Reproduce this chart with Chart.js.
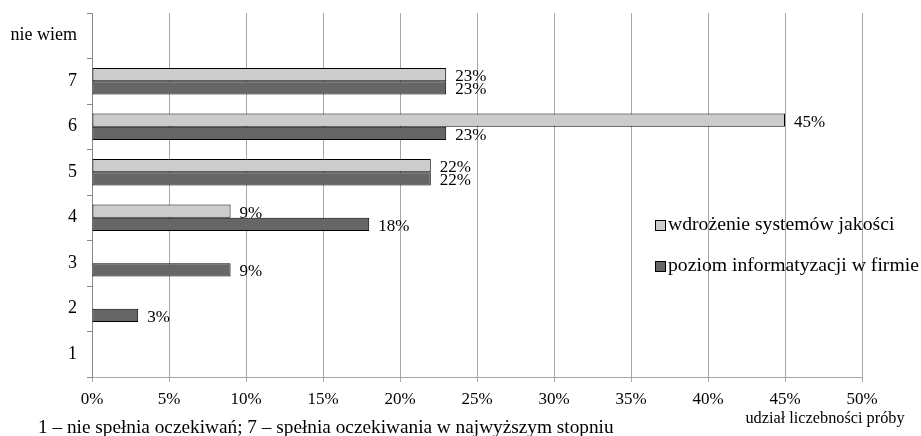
<!DOCTYPE html>
<html lang="pl">
<head>
<meta charset="utf-8">
<script src="https://cdn.jsdelivr.net/npm/chart.js@4/dist/chart.umd.min.js"></script>
<style>
  html, body { margin: 0; padding: 0; background: #fff; }
  #wrap { width: 921px; height: 436px; position: relative; }
</style>
</head>
<body>
<div id="wrap"><canvas id="c" width="921" height="436"></canvas></div>
<script>
// Oceny (od góry): "nie wiem", 7 ... 1
const categories = ['nie wiem', '7', '6', '5', '4', '3', '2', '1'];
// udział procentowy odpowiedzi
const jakosc = [null, 23, 45, 22, 9, null, null, null];
const informatyzacja = [null, 23, 23, 22, 18, 9, 3, null];
const seriesNames = ['wdrożenie systemów jakości', 'poziom informatyzacji w firmie'];
const xTicks = [0, 5, 10, 15, 20, 25, 30, 35, 40, 45, 50];
const axisTitle = 'udział liczebności próby';
const footnote = '1 – nie spełnia oczekiwań; 7 – spełnia oczekiwania w najwyższym stopniu';

const FONT = '"Liberation Serif", "Times New Roman", serif';
const colors = ['#cccccc', '#666666'];

const extras = {
  id: 'extras',
  afterDatasetsDraw(chart) {
    const ctx = chart.ctx;
    ctx.save();
    ctx.font = '17px ' + FONT;
    ctx.fillStyle = '#000';
    ctx.textBaseline = 'middle';
    ctx.textAlign = 'left';
    chart.data.datasets.forEach((ds, i) => {
      const meta = chart.getDatasetMeta(i);
      meta.data.forEach((bar, j) => {
        const v = ds.data[j];
        if (v === null || v === undefined) return;
        ctx.fillText(v + '%', bar.x + 9, bar.y + 2);
      });
    });
    // legenda
    const lx = 655;
    const ly = [225, 266];
    ctx.font = '19.7px ' + FONT;
    seriesNames.forEach((n, i) => {
      ctx.fillStyle = colors[i];
      ctx.fillRect(lx, ly[i] - 5, 10, 10);
      ctx.strokeStyle = '#000';
      ctx.lineWidth = 1;
      ctx.strokeRect(lx + 0.5, ly[i] - 5 + 0.5, 10, 10);
      ctx.fillStyle = '#000';
      ctx.fillText(n, lx + 13, ly[i]);
    });
    // tytuł osi i przypis
    ctx.font = '16.3px ' + FONT;
    ctx.textAlign = 'center';
    ctx.fillText(axisTitle, 825, 419);
    ctx.font = '19.3px ' + FONT;
    ctx.textAlign = 'left';
    ctx.fillText(footnote, 38, 428);
    ctx.restore();
  }
};

new Chart(document.getElementById('c'), {
  type: 'bar',
  data: {
    labels: categories,
    datasets: [
      { label: seriesNames[0], data: jakosc, backgroundColor: colors[0], borderColor: '#000', borderWidth: 1, borderSkipped: false },
      { label: seriesNames[1], data: informatyzacja, backgroundColor: colors[1], borderColor: '#000', borderWidth: 1, borderSkipped: false }
    ]
  },
  options: {
    indexAxis: 'y',
    responsive: false,
    animation: false,
    events: [],
    layout: { padding: { left: 0, top: 13, right: 59, bottom: 0 } },
    datasets: { bar: { categoryPercentage: 0.585, barPercentage: 1.0 } },
    plugins: { legend: { display: false }, tooltip: { enabled: false } },
    scales: {
      x: {
        min: 0, max: 50,
        afterBuildTicks(scale) { scale.ticks = xTicks.map(v => ({ value: v })); },
        afterFit(scale) { scale.height = 59; },
        ticks: {
          callback: v => v + '%',
          font: { family: FONT, size: 17 },
          color: '#000',
          padding: 7,
          maxRotation: 0
        },
        grid: { color: '#a6a6a6', lineWidth: 1, tickLength: 5 },
        border: { color: '#a6a6a6' }
      },
      y: {
        afterFit(scale) {
          scale.width = 92;
          // brak dodatkowego odstępu nad i pod osią kategorii
          scale.paddingTop = 0;
          scale.paddingBottom = 0;
        },
        ticks: {
          font: { family: FONT, size: 18 },
          color: '#000',
          padding: 10
        },
        grid: { drawOnChartArea: false, color: '#888', tickLength: 5, offset: true },
        border: { color: '#888' }
      }
    }
  },
  plugins: [extras]
});
</script>
</body>
</html>
